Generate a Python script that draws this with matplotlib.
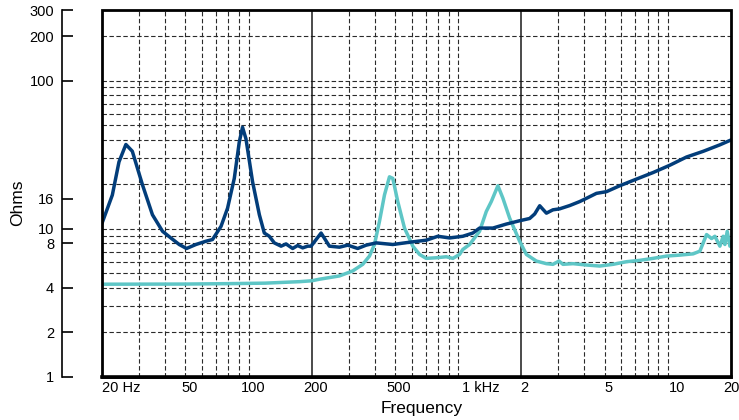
import matplotlib
matplotlib.use("Agg")
import matplotlib.pyplot as plt
import matplotlib.transforms as mtransforms
from matplotlib.patches import Rectangle

plt.rcParams['font.family'] = ['Liberation Sans', 'DejaVu Sans']
plt.rcParams['lines.scale_dashes'] = False

# ---- data ----
woofer_freq = [20, 22.4, 24.1, 26.0, 27.9, 31.2, 34.8, 38.9, 42.6, 46.7, 50.6, 56.1, 62.6,
               67.3, 73.9, 79.4, 85.5, 90.3, 93.6, 97.2, 104.5, 112.6, 118.9, 125.6, 132.7,
               142.9, 150.9, 162.3, 171.5, 181.2, 191.4, 198.7, 221.8, 243, 271.3, 297.1,
               331.7, 363.8, 406.1, 487.5, 585.6, 703.6, 799.4, 909.3, 1052, 1175, 1264,
               1463, 1696, 1963, 2192, 2316, 2447, 2634, 2830, 3048, 3402, 3797, 4088, 4563,
               5093, 5896, 7082, 8500, 10216, 12275, 14736, 17702, 20000]
woofer_ohms = [10.9, 16.9, 28.3, 37.1, 33.4, 19.8, 12.45, 9.62, 8.68, 7.84, 7.37, 7.84, 8.25,
               8.47, 10.39, 13.78, 21.9, 38.5, 48.5, 40.5, 20.8, 12.45, 9.37, 8.91, 8.04,
               7.64, 7.91, 7.37, 7.72, 7.44, 7.64, 7.64, 9.37, 7.64, 7.52, 7.76,
               7.37, 7.76, 8.04, 7.84, 8.12, 8.38, 8.91, 8.68, 8.91, 9.37, 10.12,
               10.12, 10.77, 11.34, 11.75, 12.6, 14.32, 12.76, 13.44, 13.65, 14.36, 15.28, 16.07, 17.36,
               17.82, 19.54, 21.67, 23.99, 26.88, 30.54, 33.36, 36.9, 39.8]

tweeter_freq = [20, 50, 83.6, 120, 175, 200, 217.7, 271.3, 314, 350.4, 377.3, 398.6, 421.1,
                444.9, 470, 487.5, 514.9, 554.4, 607.4, 653.7, 703.6, 785.4, 876.8, 942.8,
                1015, 1052, 1133, 1264, 1361, 1438, 1546, 1634, 1759, 1963, 2114, 2359, 2634,
                2830, 3024, 3160, 3528, 4088, 4732, 5476, 6346, 7346, 8500, 9852, 11405,
                13198, 14210, 15292, 16158, 16754, 17702, 18358, 18704, 19184, 19758]
tweeter_ohms = [4.23, 4.24, 4.27, 4.3, 4.4, 4.46, 4.57, 4.81, 5.2, 5.76, 6.55, 7.84, 11.22,
                16.93, 22.45, 21.9, 15.28, 10.12, 7.64, 6.72, 6.32, 6.38, 6.48, 6.32,
                6.72, 7.26, 7.84, 9.62, 13.09, 15.28, 19.54, 16.07, 11.81, 8.25, 6.72, 6.06, 5.82,
                5.76, 6.06, 5.76, 5.82, 5.7, 5.61, 5.76, 6.0, 6.13, 6.32, 6.55, 6.65,
                6.78, 7.07, 9.15, 8.6, 8.91, 7.64, 8.91, 7.84, 9.62, 7.64]

x_tick_values = [20, 50, 100, 200, 500, 1000, 2000, 5000, 10000, 20000]
x_tick_labels = ['20 Hz', '50', '100', '200', '500', '1 kHz', '2', '5', '10', '20']
y_tick_values = [1, 2, 4, 8, 10, 16, 100, 200, 300]
y_tick_labels = ['1', '2', '4', '8', '10', '16', '100', '200', '300']

x_grid_dashed = [30, 40, 50, 60, 70, 80, 90, 100, 300, 400, 500, 600, 700, 800, 900, 1000,
                 3000, 4000, 5000, 6000, 7000, 8000, 9000, 10000]
x_grid_solid = [200, 2000]
y_grid = [2, 3, 4, 5, 6, 7, 8, 9, 10, 20, 30, 40, 50, 60, 70, 80, 90, 100, 200]

# ---- figure ----
W, H = 739, 420
fig = plt.figure(figsize=(W / 100, H / 100), dpi=100)
ax = fig.add_axes([102 / W, 1 - 377 / H, (731 - 102) / W, (377 - 10) / H])
ax.set_xscale('log')
ax.set_yscale('log')
ax.set_xlim(20, 20000)
ax.set_ylim(1, 300)

grid_kw = dict(color='#2a2a2a', lw=0.8, linestyle=(0, (3.2, 1.8)), zorder=1)
for v in x_grid_dashed:
    ax.axvline(v, **grid_kw)
for v in y_grid:
    ax.axhline(v, **grid_kw)
for v in x_grid_solid:
    ax.axvline(v, color='#1a1a1a', lw=1.1, zorder=1)

ax.plot(tweeter_freq, tweeter_ohms, color='#5ec6c6', lw=2.5, zorder=3,
        solid_joinstyle='round', solid_capstyle='round')
ax.plot(woofer_freq, woofer_ohms, color='#023d7a', lw=2.5, zorder=4,
        solid_joinstyle='round', solid_capstyle='round')

# frame
for s in ['top', 'right', 'bottom']:
    ax.spines[s].set_visible(False)
ax.add_patch(Rectangle((0, 0), 1, 1, transform=ax.transAxes, fill=False,
                       lw=2.0, edgecolor='black', zorder=6, clip_on=False))
ax.plot([0, 1], [0, 0], transform=ax.transAxes, color='black', lw=2.6,
        clip_on=False, zorder=6)

# detached left axis
ax.spines['left'].set_position(('outward', 29))
ax.spines['left'].set_bounds(1, 300)
ax.spines['left'].set_linewidth(1.2)
ax.yaxis.set_major_locator(matplotlib.ticker.FixedLocator(y_tick_values))
ax.yaxis.set_minor_locator(matplotlib.ticker.NullLocator())
ax.set_yticklabels(y_tick_labels)
ax.tick_params(axis='y', direction='in', length=8, width=1.2, pad=5.5,
               labelsize=10.5, colors='black')

# x labels drawn as text at tick positions
ax.xaxis.set_major_locator(matplotlib.ticker.NullLocator())
ax.xaxis.set_minor_locator(matplotlib.ticker.NullLocator())
blend = mtransforms.blended_transform_factory(ax.transData, ax.transAxes)
x_offsets_px = [0, 4, 5, 4, 4, 4, 3, 4, 9, 0]
x_has = ['left', 'center', 'center', 'center', 'center', 'left', 'center', 'center', 'center', 'center']
for v, lab, off, ha in zip(x_tick_values, x_tick_labels, x_offsets_px, x_has):
    tr = blend + mtransforms.ScaledTranslation(off / 100, -4 / 100, fig.dpi_scale_trans)
    ax.text(v, 0, lab, transform=tr, ha=ha, va='top', fontsize=10.5, clip_on=False)

fig.text(422 / W, 1 - 413 / H, 'Frequency', ha='center', va='baseline', fontsize=12.5)
fig.text(17.5 / W, 1 - 203 / H, 'Ohms', ha='center', va='center', rotation=90, fontsize=12.5)

fig.savefig('out.png', dpi=100)
